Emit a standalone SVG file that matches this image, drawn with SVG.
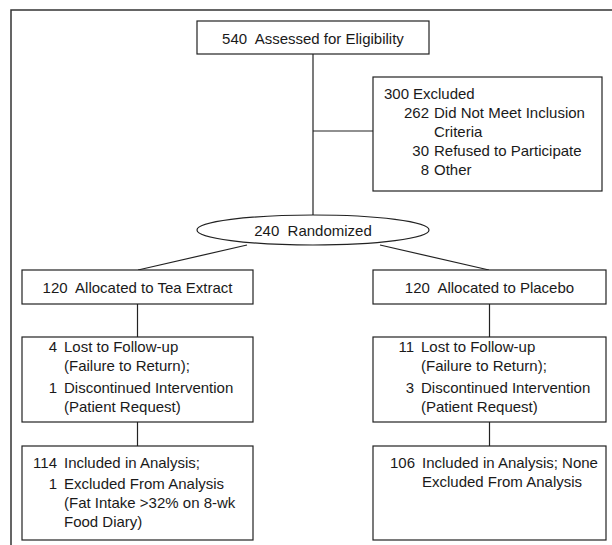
<svg xmlns="http://www.w3.org/2000/svg" width="612" height="545" viewBox="0 0 612 545">
<style>
.b{fill:#fff;stroke:#222;stroke-width:1.2}
.c{fill:none;stroke:#222;stroke-width:1.2}
text{font-family:"Liberation Sans",Arial,sans-serif;font-size:15px;fill:#1a1a1a}
.m{text-anchor:middle}
.e{text-anchor:end}
</style>
<rect width="612" height="545" fill="#fff"/>
<path d="M11,546 V10 H613" fill="none" stroke="#333" stroke-width="1.5"/>
<g id="connectors">
<line class="c" x1="313" y1="54" x2="313" y2="215"/>
<line class="c" x1="313" y1="131" x2="373" y2="131"/>
<line class="c" x1="247" y1="245" x2="138" y2="270"/>
<line class="c" x1="380" y1="245" x2="489" y2="270"/>
<line class="c" x1="137.5" y1="304" x2="137.5" y2="337"/>
<line class="c" x1="489.5" y1="304" x2="489.5" y2="337"/>
<line class="c" x1="137.5" y1="422" x2="137.5" y2="446"/>
<line class="c" x1="489.5" y1="422" x2="489.5" y2="446"/>
</g>
<g id="assessed">
<rect class="b" x="197" y="21" width="232" height="33"/>
<text class="m" x="313" y="43.5">540&#160; Assessed for Eligibility</text>
</g>
<g id="excluded">
<rect class="b" x="373" y="77" width="229" height="114"/>
<text><tspan class="e" x="409" y="99">300</tspan><tspan x="413" y="99">Excluded</tspan></text>
<text><tspan class="e" x="429" y="118">262</tspan><tspan x="434" y="118">Did Not Meet Inclusion</tspan></text>
<text x="434" y="137">Criteria</text>
<text><tspan class="e" x="429" y="156">30</tspan><tspan x="434" y="156">Refused to Participate</tspan></text>
<text><tspan class="e" x="429" y="175">8</tspan><tspan x="434" y="175">Other</tspan></text>
</g>
<g id="randomized">
<ellipse class="b" cx="313" cy="230" rx="116" ry="15"/>
<text class="m" x="313" y="235.5">240&#160; Randomized</text>
</g>
<g id="alloc-tea">
<rect class="b" x="22" y="270" width="231" height="34"/>
<text class="m" x="137.5" y="292.5">120&#160; Allocated to Tea Extract</text>
</g>
<g id="alloc-placebo">
<rect class="b" x="373" y="270" width="233" height="34"/>
<text class="m" x="489.5" y="292.5">120&#160; Allocated to Placebo</text>
</g>
<g id="lost-tea">
<rect class="b" x="22" y="337" width="231" height="85"/>
<text><tspan class="e" x="57" y="352">4</tspan><tspan x="64" y="352">Lost to Follow-up</tspan></text>
<text x="64" y="370.5">(Failure to Return);</text>
<text><tspan class="e" x="57" y="393">1</tspan><tspan x="64" y="393">Discontinued Intervention</tspan></text>
<text x="64" y="411.5">(Patient Request)</text>
</g>
<g id="lost-placebo">
<rect class="b" x="373" y="337" width="233" height="85"/>
<text><tspan class="e" x="414" y="352">11</tspan><tspan x="421" y="352">Lost to Follow-up</tspan></text>
<text x="421" y="370.5">(Failure to Return);</text>
<text><tspan class="e" x="414" y="393">3</tspan><tspan x="421" y="393">Discontinued Intervention</tspan></text>
<text x="421" y="411.5">(Patient Request)</text>
</g>
<g id="analysis-tea">
<rect class="b" x="22" y="446" width="231" height="94"/>
<text><tspan class="e" x="57" y="467.5">114</tspan><tspan x="64" y="467.5">Included in Analysis;</tspan></text>
<text><tspan class="e" x="57" y="489">1</tspan><tspan x="64" y="489">Excluded From Analysis</tspan></text>
<text x="64" y="508">(Fat Intake &gt;32% on 8-wk</text>
<text x="64" y="526.5">Food Diary)</text>
</g>
<g id="analysis-placebo">
<rect class="b" x="373" y="446" width="233" height="94"/>
<text><tspan class="e" x="415" y="467.5">106</tspan><tspan x="422" y="467.5">Included in Analysis; None</tspan></text>
<text x="422" y="486.5">Excluded From Analysis</text>
</g>
</svg>
